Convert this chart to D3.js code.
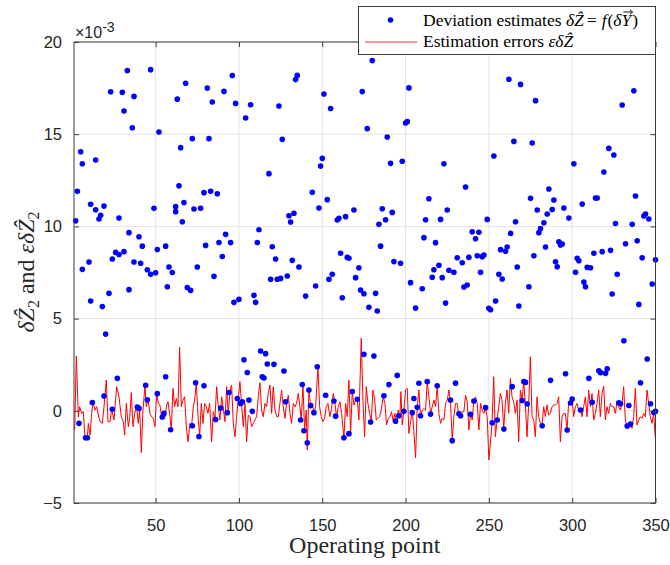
<!DOCTYPE html>
<html>
<head>
<meta charset="utf-8">
<script src="https://cdn.jsdelivr.net/npm/d3@7"></script>
<style>
  body { margin: 0; background: #fff; }
  svg { display: block; }
</style>
</head>
<body>
<div id="chart"></div>
<script>
// tick values
const xTicks = [50, 100, 150, 200, 250, 300, 350];
const yTicks = [-5, 0, 5, 10, 15, 20];

// deviation estimates (operating point, value x1e-3)
const estimates = [
  [33,18.45],[47,18.5],[23,17.3],[30,17.27],[37,17.05],[31,16.26],[36,15.35],[52,15.12],[5,14.05],[14,13.6],
  [6,13.4],[3,11.9],[11,11.2],[14,10.9],[19,11.1],[17,10.6],[16,10.4],[28,10.45],[2,10.3],[49,10.98],
  [34,9.66],[40,9.44],[42,8.93],[51,8.75],[56,8.93],[26,8.59],[28,8.48],[31,8.63],[24,8.23],[10,8.07],
  [6,7.67],[37,8.07],[41,8.0],[45,7.65],[47,7.4],[50,7.49],[58,7.8],[60,7.5],[75,7.8],[80,8.97],
  [63,16.9],[68,17.76],[81,17.5],[65,14.27],[72,14.76],[82,14.76],[64,12.2],[67,11.3],[62,11.07],[62,10.8],
  [73,10.94],[77,10.98],[79,11.83],[83,11.9],[66,10.25],
  [11,5.95],[18,5.66],[22,6.37],[34,6.57],[57,6.73],[69,6.68],[71,6.53],[20,4.16],[27,1.76],[56,1.85],
  [44,1.38],[19,0.8],[74,1.52],[79,1.36],[12,0.45],[24,0.08],[39,0.2],[40,0.13],[45,0.6],[51,0.93],
  [4,-0.68],[8,-1.46],[9,-1.46],[54,-0.34],[55,-0.14],[59,-1.03],[72,-0.81],[76,-1.39],
  [96,18.18],[91,17.32],[84,16.75],[98,16.67],[107,16.6],[104,15.88],[124,16.53],[134,17.96],[135,18.19],[151,17.18],
  [155,16.39],[126,14.72],[150,13.69],[149,13.27],[118,12.86],[87,11.77],[144,11.85],[153,11.45],[148,11.0],[130,10.58],
  [133,10.71],[131,10.24],[159,10.35],[160,10.44],[164,10.53],[92,9.57],[88,9.13],[95,9.13],[90,8.37],[112,9.82],
  [111,9.13],[120,8.9],[122,8.23],[132,8.16],[136,7.8],[129,7.31],[125,7.18],[123,7.13],[119,7.13],[85,7.29],
  [161,8.54],[165,8.32],[156,7.4],[154,7.13],
  [97,5.88],[100,6.04],[109,6.26],[110,5.88],[140,6.22],[146,6.77],[162,6.13],[103,2.77],[113,3.24],[116,3.1],
  [105,2.08],[117,2.54],[121,2.52],[127,2.16],[114,1.85],[115,1.78],[94,0.99],[99,0.67],[101,0.4],[102,0.49],
  [106,0.58],[108,-0.03],[89,0.15],[93,-0.1],[86,-0.47],[128,0.49],[138,1.43],[142,1.13],[143,0.28],[145,-0.1],
  [137,-0.5],[139,-1.08],[141,-1.73],[147,2.39],[152,0.84],[157,0.53],[158,-0.29],[163,-1.46],[166,-1.24],
  [180,18.99],[174,17.31],[202,17.51],[177,15.3],[200,15.61],[201,15.68],[189,14.85],[191,13.42],[198,13.53],[223,13.4],
  [236,12.14],[214,11.5],[169,10.89],[186,10.96],[192,10.76],[188,10.36],[184,10.11],[212,10.36],[221,10.38],[225,10.89],
  [249,10.38],[211,9.39],[218,9.12],[240,9.71],[244,9.68],[242,9.33],[185,8.93],[172,7.76],[170,7.22],[193,8.09],
  [197,8.0],[231,8.3],[234,8.03],[238,8.32],[243,8.41],[246,8.36],[247,8.45],[245,7.51],[220,7.89],[217,7.65],
  [226,7.62],[229,7.51],[216,7.24],[222,7.22],[166,8.27],
  [178,5.61],[183,5.41],[173,6.55],[175,6.35],[182,6.37],[206,5.57],[210,6.62],[203,6.95],[224,5.84],[235,6.71],
  [237,6.82],[250,5.56],[175,3.06],[181,2.97],[195,1.92],[190,1.42],[168,1.04],[171,0.62],[187,0.82],[179,-0.61],
  [194,-0.56],[196,-0.27],[199,-0.03],[205,0.67],[208,1.49],[213,1.58],[219,1.36],[207,0.19],[204,-0.1],[209,-0.27],
  [215,-0.18],[227,0.58],[230,1.5],[228,-1.62],[232,-0.16],[233,-0.27],[239,-0.19],[241,0.53],[248,0.17],
  [262,17.98],[269,17.7],[278,16.82],[337,17.36],[330,16.58],[265,14.61],[276,14.52],[253,13.82],[301,13.4],[322,14.23],
  [325,13.87],[319,12.95],[286,12.03],[275,11.52],[289,11.43],[314,11.54],[315,11.54],[338,11.65],[279,10.89],[288,10.92],
  [295,11.0],[285,10.67],[306,11.21],[298,10.45],[266,10.25],[283,10.2],[281,9.89],[280,9.66],[263,9.62],[326,10.16],
  [336,10.11],[343,10.56],[344,10.67],[346,10.4],[292,9.17],[293,8.99],[294,9.04],[284,8.88],[261,8.88],[260,8.65],
  [257,8.74],[277,8.41],[290,8.08],[291,7.81],[267,7.8],[303,8.27],[304,8.14],[313,8.54],[318,8.63],[323,8.7],
  [332,9.06],[339,9.22],[342,8.3],[350,8.19],[309,7.78],[311,7.76],[302,7.51],[327,7.4],[256,7.4],[258,7.15],
  [251,5.48],[254,5.95],[268,5.68],[274,6.73],[307,6.98],[308,6.73],[324,6.33],[340,5.77],[348,6.88],
  [331,3.8],[345,2.81],[316,2.17],[317,2.07],[320,2.03],[321,2.28],[310,1.76],[296,2.01],[287,1.65],[271,1.58],
  [272,1.54],[264,1.31],[341,1.52],[270,0.56],[273,0.37],[252,-0.65],[255,-0.5],[259,-0.99],[282,-0.81],[297,-1.04],
  [299,0.42],[300,0.64],[305,0.04],[312,0.46],[328,0.44],[329,0.38],[334,0.29],[333,-0.83],[335,-0.72],[347,0.38],
  [349,-0.09],[350,-0.03]
];

// estimation errors (operating point, value x1e-3)
const errors = [
  [1.4,-1.04],[2.4,2.97],[3.6,-0.33],[4.4,0.22],[5.6,-0.14],[6.6,-0.05],[7.6,-1.46],[9,-1.46],[9.6,-0.68],[10.6,-1.32],
  [11.6,-0.14],[12.4,0.46],[13.6,0.04],[14.6,0.22],[15.6,-0.23],[16.6,-0.59],[18,-0.68],[19,0.22],[20.4,1.67],[21.4,-0.59],
  [22.6,-0.59],[23.6,0.08],[25,-0.5],[26.6,1.31],[28,0.76],[29.4,-0.33],[30.6,-0.59],[31.4,-1.32],[32.4,0.4],[33.6,-0.86],
  [34.4,-0.41],[35.4,0.99],[36.4,-0.86],[37.4,-0.14],[38.6,0.2],[39.6,-0.68],[40.4,0.13],[41.4,-2.27],[42.4,0.04],[43.6,1.38],
  [44.4,0.22],[45.4,0.6],[46.6,-0.14],[47.6,-0.33],[48.6,-0.41],[49.6,-0.86],[50.6,0.93],[51.6,0.4],[52.6,0.31],[53.6,-0.34],
  [54.6,-0.14],[55.6,-0.33],[56.6,0.31],[57.4,0.49],[58.6,-0.33],[59.4,-1.03],[60.4,1.22],[61.4,0.22],[62.4,0.67],[63.4,0.22],
  [64.4,3.44],[65.4,0.22],[66.4,0.58],[67.4,0.76],[68.4,-0.86],[69.4,-1.68],[70.6,-0.68],[71.6,-0.81],[72.6,0.22],[73.4,0.58],
  [74.4,1.52],[75.4,-0.23],[76.4,-1.39],[77.4,0.4],[78.4,-0.68],[79.4,0.4],[80.4,0.22],[81.4,-0.14],[82.4,0.4],
  [83.6,-1.68],[84.6,-0.05],[85.6,-0.41],[86.6,1.31],[87.6,0.22],[88.6,-0.5],[89.6,0.76],[90.6,0.13],[91.6,-0.59],[92.6,1.31],
  [93.6,-0.14],[94.6,1.04],[95.6,1.4],[96.6,-0.68],[97.6,-1.41],[98.6,-0.32],[99.6,0.67],[100.6,1.58],[101.6,0.31],[102.6,-0.86],
  [103.6,0.4],[104.6,-1.68],[105.6,-0.23],[106.6,-0.32],[107.6,-0.86],[108.6,-0.68],[109.6,-0.5],[110.6,-0.32],[111.6,0.76],[112.6,1.52],
  [113.6,0.04],[114.6,-0.32],[115.6,0.4],[116.6,0.22],[117.6,0.94],[118.6,1.4],[119.6,-0.14],[120.6,1.31],[121.6,0.04],[122.6,-0.32],
  [123.6,-0.32],[124.6,0.4],[125.6,1.13],[126.6,0.22],[127.6,-0.41],[128.6,0.4],[129.6,0.85],[130.6,-0.14],[131.6,-0.68],[132.6,0.4],
  [133.6,0.22],[134.6,0.4],[135.6,0.94],[136.6,0.22],[137.4,-0.5],[138.4,1.43],[139.4,-1.04],[140.4,0.04],[141,-2.13],[142,1.13],
  [143,0.29],[144,0.4],[145,-0.1],[146,0.22],[147.4,2.39],[148.4,0.22],[149.4,-0.32],[150.4,-0.59],[151.4,-0.41],[152.4,0.22],
  [153.4,0.4],[154.6,-0.32],[155.6,0.13],[156.6,0.94],[157.6,0.4],[158.6,-0.32],[159.6,0.22],[160.6,0.49],[161.6,-0.14],[163,-1.5],
  [164,0.4],[165,-0.32],[166,1.67],
  [167,-1.23],[168,1.04],[169,0.31],[170,0.58],[171,0.67],[172,-0.5],[173.4,3.93],[174.4,0.58],[175.4,-1.41],[176.4,1.31],
  [177.4,0.4],[178.4,-0.14],[179.4,-0.59],[180.4,1.13],[181.4,0.67],[182.4,-0.5],[183.4,-0.41],[184.4,-0.32],[185.4,0.04],[186.6,0.76],
  [187.6,0.4],[188.6,-0.77],[189.6,-0.41],[190.6,-0.32],[191.6,-0.05],[192.6,-0.59],[193.6,-0.14],[194.6,-0.59],[195.6,0.04],[196.6,-0.32],
  [197.2,1.04],[198,-0.77],[199,0.04],[200,1.13],[201,1.22],[202,-1.23],[203,-0.59],[204,0.04],[205,-1.14],[206,-2.55],
  [207,0.22],[208,1.13],[209,-0.32],[210,0.04],[211,0.13],[212,0.04],[213,1.58],[214,0.76],[215,-0.14],[216,0.22],
  [217,0.58],[218,0.22],[219,1.36],[220,-0.14],[221,-0.68],[222,-0.41],[223,-0.5],[224,0.4],[225,0.58],[226,1.13],
  [227,0.4],[228,-1.62],[229,-0.32],[230,0.4],[231,0.4],[232,-0.32],[233,-0.23],[234,-0.05],[235,-0.05],[236,0.85],
  [237,0.49],[238,-1.04],[239,-0.14],[240,-0.5],[241,0.58],[242,0.76],[243,0.4],[244,-1.04],[245,0.4],[246,0.04],
  [247,-0.14],[248,0.13],[249,-0.32],[250,-2.67],
  [251.9,-0.68],[252.9,1.85],[253.9,-1.41],[254.9,-0.5],[255.9,0.22],[256.9,0.94],[257.9,0.58],[258.9,-0.95],[259.9,0.4],[260.9,1.13],
  [261.9,-0.14],[262.9,1.76],[263.9,0.76],[264.9,0.49],[265.9,-0.14],[266.9,0.58],[267.9,-1.68],[268.9,1.13],[269.9,0.58],[270.9,1.58],
  [271.9,0.4],[272.9,-1.41],[273.9,0.4],[274.9,2.93],[275.9,-0.32],[276.9,-0.5],[277.9,-1.41],[278.9,0.76],[279.9,-0.32],[280.9,-0.68],
  [281.9,-0.77],[282.9,0.22],[283.9,-0.32],[284.9,0.31],[285.9,-0.23],[286.9,-0.14],[287.9,0.22],[288.9,0.31],[289.9,0.31],[290.9,0.4],
  [291.9,0.76],[292.9,-1.68],[293.9,-0.32],[294.9,-0.14],[295.9,-0.14],[296.9,-1.04],[297.9,0.49],[298.9,0.4],[299.9,0.67],[300.9,-0.32],
  [301.9,0.22],[302.9,0.4],[303.9,0.04],[304.9,0.04],[305.9,-0.32],[306.9,0.22],[307.9,0.76],[308.9,-0.32],[309.9,1.13],[310.9,0.22],
  [311.9,0.94],[312.9,-0.5],[313.9,-0.14],[314.9,0.4],[315.9,1.13],[316.9,-0.32],[317.9,0.94],[318.9,1.34],[319.9,-0.5],[320.9,0.22],
  [321.9,-0.14],[322.9,0.4],[323.9,0.22],[324.9,0.22],[325.9,-0.14],[326.9,0.49],[327.9,0.22],[328.9,0.04],[329.9,0.4],[330.9,1.31],
  [331.9,-0.5],[332.9,-0.86],[333.9,-0.68],[334.9,-0.68],[335.9,-0.95],[336.9,-0.32],[337.9,1.22],[338.9,-0.77],[339.9,-0.5],[340.9,-0.32],
  [341.9,-0.41],[342.9,-0.14],[343.9,-0.32],[344.9,1.13],[345.9,0.4],[346.9,-0.32],[347.9,-0.68],[348.9,-0.14],[349.9,-1.5]
];

const width = 670, height = 565;
const plot = {left: 74, right: 655.5, top: 42, bottom: 503};
const axisColor = "#3c3c3c";
const tickFont = "'Liberation Sans', Arial, sans-serif";
const mathFont = "'Liberation Serif', 'Times New Roman', serif";

const svg = d3.select("#chart").append("svg")
  .attr("width", width)
  .attr("height", height);

svg.append("rect").attr("width", width).attr("height", height).attr("fill", "#fff");

let x = d3.scaleLinear().domain([1, 350]).range([plot.left, plot.right]);
let y = d3.scaleLinear().domain([-5, 20]).range([plot.bottom, plot.top]);

// grid
let grid = svg.append("g").attr("stroke", "#e3e3e3").attr("stroke-width", 1);
grid.selectAll(".gx").data(xTicks).enter().append("line")
  .attr("x1", d => x(d)).attr("x2", d => x(d))
  .attr("y1", plot.top).attr("y2", plot.bottom);
grid.selectAll(".gy").data(yTicks).enter().append("line")
  .attr("x1", plot.left).attr("x2", plot.right)
  .attr("y1", d => y(d)).attr("y2", d => y(d));

// red error line
let line = d3.line().x(d => x(d[0])).y(d => y(d[1]));
svg.append("path")
  .datum(errors)
  .attr("d", line)
  .attr("fill", "none")
  .attr("stroke", "#ff0000")
  .attr("stroke-width", 1)
  .attr("stroke-linejoin", "round");

// blue estimate dots
svg.append("g").selectAll("circle")
  .data(estimates)
  .enter().append("circle")
    .attr("cx", d => x(d[0]))
    .attr("cy", d => y(d[1]))
    .attr("r", 2.8)
    .attr("fill", "#0000ff");

// axes with inward ticks on all four sides
function styleAxis(g, labels) {
  g.select(".domain").remove();
  g.selectAll(".tick line").attr("stroke", axisColor);
  g.selectAll(".tick text")
    .attr("fill", "#262626")
    .style("font-family", tickFont)
    .style("font-size", "16.5px");
  if (!labels) g.selectAll(".tick text").remove();
}

svg.append("g")
  .attr("transform", "translate(0," + plot.bottom + ")")
  .call(d3.axisBottom(x).tickValues(xTicks).tickSize(-5).tickPadding(16))
  .call(g => styleAxis(g, true));
svg.append("g")
  .attr("transform", "translate(0," + plot.top + ")")
  .call(d3.axisTop(x).tickValues(xTicks).tickSize(-5))
  .call(g => styleAxis(g, false));
svg.append("g")
  .attr("transform", "translate(" + plot.left + ",0)")
  .call(d3.axisLeft(y).tickValues(yTicks).tickSize(-5).tickPadding(12))
  .call(g => styleAxis(g, true));
svg.append("g")
  .attr("transform", "translate(" + plot.right + ",0)")
  .call(d3.axisRight(y).tickValues(yTicks).tickSize(-5))
  .call(g => styleAxis(g, false));

svg.append("rect")
  .attr("x", plot.left).attr("y", plot.top)
  .attr("width", plot.right - plot.left).attr("height", plot.bottom - plot.top)
  .attr("fill", "none").attr("stroke", axisColor).attr("stroke-width", 1);

// exponent label
let expo = svg.append("text")
  .attr("x", plot.left + 1).attr("y", 38)
  .attr("fill", "#262626")
  .style("font-family", tickFont)
  .style("font-size", "16px");
expo.append("tspan").text("\u00d710");
expo.append("tspan").attr("dy", -6).style("font-size", "14px").text("-3");

// x label
svg.append("text")
  .attr("x", (plot.left + plot.right) / 2).attr("y", 553)
  .attr("text-anchor", "middle")
  .attr("fill", "#262626")
  .style("font-family", mathFont)
  .style("font-size", "24px")
  .text("Operating point");

// y label
let ylab = svg.append("text")
  .attr("transform", "translate(34,272) rotate(-90)")
  .attr("text-anchor", "middle")
  .attr("fill", "#262626")
  .style("font-family", mathFont)
  .style("font-size", "24px");
ylab.append("tspan").style("font-style", "italic").text("\u03b4\u1e90");
ylab.append("tspan").attr("dy", 5).style("font-size", "16px").text("2");
ylab.append("tspan").attr("dy", -5).text(" and ");
ylab.append("tspan").style("font-style", "italic").text("\u03b5\u03b4\u1e90");
ylab.append("tspan").attr("dy", 5).style("font-size", "16px").text("2");

// legend
let legend = svg.append("g");
legend.append("rect")
  .attr("x", 358.5).attr("y", 6.5)
  .attr("width", 297).attr("height", 48)
  .attr("fill", "#fff").attr("stroke", axisColor).attr("stroke-width", 1);
legend.append("circle")
  .attr("cx", 390.5).attr("cy", 20).attr("r", 2.8).attr("fill", "#0000ff");
legend.append("line")
  .attr("x1", 365).attr("x2", 417).attr("y1", 42).attr("y2", 42)
  .attr("stroke", "#ff3030").attr("stroke-width", 1.2);

let t1 = legend.append("text")
  .attr("x", 423).attr("y", 25.5)
  .attr("fill", "#000")
  .style("font-family", mathFont)
  .style("font-size", "17.5px");
t1.append("tspan").text("Deviation estimates ");
t1.append("tspan").style("font-style", "italic").text("\u03b4\u1e90");
t1.append("tspan").attr("dx", 3).text("=");
t1.append("tspan").attr("dx", 5).style("font-style", "italic").text("f");
t1.append("tspan").attr("dx", 1).text("(");
t1.append("tspan").style("font-style", "italic").text("\u03b4Y");
t1.append("tspan").attr("dx", 1).text(")");

// vector arrow over the Y, drawn as a path
let full = t1.node().textContent;
let yBox = t1.node().getExtentOfChar(full.lastIndexOf("Y"));
let ax = yBox.x + yBox.width / 2 + 1.5, ay = yBox.y + 2.5;
legend.append("path")
  .attr("d", "M" + (ax - 4.5) + "," + ay + "H" + (ax + 4.5) +
             "M" + (ax + 2) + "," + (ay - 2.2) + "L" + (ax + 4.8) + "," + ay + "L" + (ax + 2) + "," + (ay + 2.2))
  .attr("fill", "none")
  .attr("stroke", "#000")
  .attr("stroke-width", 0.9);

let t2 = legend.append("text")
  .attr("x", 423).attr("y", 47)
  .attr("fill", "#000")
  .style("font-family", mathFont)
  .style("font-size", "17.5px");
t2.append("tspan").text("Estimation errors ");
t2.append("tspan").style("font-style", "italic").text("\u03b5\u03b4\u1e90");
</script>
</body>
</html>
